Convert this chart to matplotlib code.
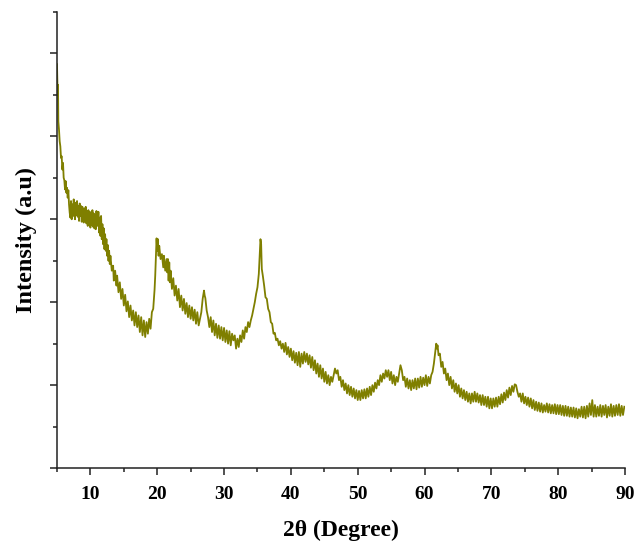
import numpy as np
import matplotlib
matplotlib.use("Agg")
import matplotlib.pyplot as plt
from matplotlib.ticker import MultipleLocator, NullFormatter

# ================= XRD 数据 (2θ, 强度 a.u.) =================
two_theta = [
    5.0, 5.05, 5.1, 5.15, 5.2, 5.3, 5.4, 5.5, 5.6, 5.7, 5.8, 5.9, 6.0, 6.1, 6.2, 6.3, 6.4, 6.5, 6.6, 6.7,
    6.8, 6.9, 7.0, 7.1, 7.2, 7.3, 7.4, 7.5, 7.6, 7.7, 7.8, 7.9, 8.0, 8.1, 8.2, 8.3, 8.4, 8.5, 8.6, 8.7,
    8.8, 8.9, 9.0, 9.1, 9.2, 9.3, 9.4, 9.5, 9.6, 9.7, 9.8, 9.9, 10.0, 10.1, 10.2, 10.3, 10.4, 10.5, 10.6, 10.7,
    10.8, 10.9, 11.0, 11.1, 11.2, 11.3, 11.4, 11.5, 11.6, 11.7, 11.8, 11.9, 12.0, 12.1, 12.2, 12.3, 12.4, 12.5, 12.6, 12.7,
    12.8, 12.9, 13.0, 13.2, 13.4, 13.5, 13.7, 13.9, 14.0, 14.2, 14.4, 14.6, 14.8, 15.0, 15.2, 15.4, 15.6, 15.8, 16.0, 16.2,
    16.4, 16.6, 16.8, 17.0, 17.2, 17.4, 17.6, 17.8, 18.0, 18.2, 18.4, 18.6, 18.8, 19.0, 19.2, 19.4, 19.6, 19.7, 19.8, 19.9,
    20.0, 20.1, 20.2, 20.3, 20.5, 20.7, 20.9, 21.0, 21.2, 21.4, 21.5, 21.6, 21.7, 21.8, 21.9, 22.0, 22.2, 22.4, 22.6, 22.8,
    23.0, 23.2, 23.4, 23.6, 23.8, 24.0, 24.2, 24.4, 24.6, 24.8, 25.0, 25.2, 25.4, 25.6, 25.8, 26.0, 26.2, 26.4, 26.6, 26.8,
    27.0, 27.1, 27.2, 27.4, 27.6, 27.8, 28.0, 28.2, 28.4, 28.6, 28.8, 29.0, 29.2, 29.4, 29.6, 29.8, 30.0, 30.2, 30.4, 30.6,
    30.8, 31.0, 31.2, 31.4, 31.6, 31.8, 32.0, 32.2, 32.4, 32.6, 32.8, 33.0, 33.2, 33.4, 33.6, 33.8, 34.0, 34.2, 34.4, 34.6,
    34.8, 35.0, 35.2, 35.35, 35.45, 35.55, 35.65, 35.8, 36.0, 36.2, 36.4, 36.6, 36.8, 37.0, 37.2, 37.4, 37.6, 37.8, 38.0, 38.2,
    38.4, 38.6, 38.8, 39.0, 39.2, 39.4, 39.6, 39.8, 40.0, 40.2, 40.4, 40.6, 40.8, 41.0, 41.2, 41.4, 41.6, 41.8, 42.0, 42.2,
    42.4, 42.6, 42.8, 43.0, 43.2, 43.4, 43.6, 43.8, 44.0, 44.2, 44.4, 44.6, 44.8, 45.0, 45.2, 45.4, 45.6, 45.8, 46.0, 46.2,
    46.4, 46.6, 46.8, 47.0, 47.2, 47.4, 47.6, 47.8, 48.0, 48.2, 48.4, 48.6, 48.8, 49.0, 49.2, 49.4, 49.6, 49.8, 50.0, 50.2,
    50.4, 50.6, 50.8, 51.0, 51.2, 51.4, 51.6, 51.8, 52.0, 52.2, 52.4, 52.6, 52.8, 53.0, 53.2, 53.4, 53.6, 53.8, 54.0, 54.2,
    54.4, 54.6, 54.8, 55.0, 55.2, 55.4, 55.6, 55.8, 56.0, 56.2, 56.4, 56.6, 56.8, 57.0, 57.2, 57.4, 57.6, 57.8, 58.0, 58.2,
    58.4, 58.6, 58.8, 59.0, 59.2, 59.4, 59.6, 59.8, 60.0, 60.2, 60.4, 60.6, 60.8, 61.0, 61.2, 61.4, 61.6, 61.75, 61.85, 61.95,
    62.1, 62.3, 62.5, 62.7, 62.9, 63.1, 63.3, 63.5, 63.7, 63.9, 64.1, 64.3, 64.5, 64.7, 64.9, 65.1, 65.3, 65.5, 65.7, 65.9,
    66.1, 66.3, 66.5, 66.7, 66.9, 67.1, 67.3, 67.5, 67.7, 67.9, 68.1, 68.3, 68.5, 68.7, 68.9, 69.1, 69.3, 69.5, 69.7, 69.9,
    70.1, 70.3, 70.5, 70.7, 70.9, 71.1, 71.3, 71.5, 71.7, 71.9, 72.1, 72.3, 72.5, 72.7, 72.9, 73.1, 73.3, 73.5, 73.7, 73.9,
    74.1, 74.3, 74.5, 74.7, 74.9, 75.1, 75.3, 75.5, 75.7, 75.9, 76.1, 76.3, 76.5, 76.7, 76.9, 77.1, 77.3, 77.5, 77.7, 77.9,
    78.1, 78.3, 78.5, 78.7, 78.9, 79.1, 79.3, 79.5, 79.7, 79.9, 80.1, 80.3, 80.5, 80.7, 80.9, 81.1, 81.3, 81.5, 81.7, 81.9,
    82.1, 82.3, 82.5, 82.7, 82.9, 83.1, 83.3, 83.5, 83.7, 83.9, 84.1, 84.3, 84.5, 84.7, 84.9, 85.1, 85.3, 85.5, 85.7, 85.9,
    86.1, 86.3, 86.5, 86.7, 86.9, 87.1, 87.3, 87.5, 87.7, 87.9, 88.1, 88.3, 88.5, 88.7, 88.9, 89.1, 89.3, 89.5, 89.7, 89.9,
]

intensity = [
    487, 468, 450, 462, 418, 408, 394, 388, 374, 376, 360, 368, 350, 347, 336, 346, 332, 338, 326, 335,
    318, 308, 302, 322, 300, 318, 304, 324, 308, 300, 320, 305, 322, 303, 316, 298, 319, 304, 316, 297,
    315, 300, 296, 313, 298, 315, 295, 310, 292, 311, 295, 309, 290, 308, 293, 311, 291, 307, 289, 305,
    288, 310, 294, 292, 309, 284, 302, 280, 304, 276, 294, 270, 289, 264, 282, 262, 276, 256, 269, 250,
    262, 246, 256, 238, 244, 226, 238, 220, 232, 212, 224, 204, 216, 196, 209, 189, 201, 182, 196, 178,
    190, 172, 188, 170, 184, 164, 182, 160, 178, 158, 176, 162, 180, 168, 188, 192, 215, 232, 255, 277,
    262, 276, 256, 268, 252, 258, 242, 256, 238, 252, 236, 252, 226, 248, 224, 238, 216, 229, 208, 220,
    202, 216, 194, 208, 190, 204, 186, 199, 182, 196, 180, 194, 178, 191, 174, 188, 172, 180, 188, 204,
    214, 208, 205, 190, 182, 170, 182, 164, 178, 160, 174, 157, 172, 156, 170, 154, 169, 152, 166, 150,
    165, 148, 162, 154, 160, 144, 156, 146, 160, 152, 166, 156, 170, 164, 176, 170, 178, 184, 192, 200,
    210, 218, 234, 258, 276, 270, 240, 232, 220, 206, 204, 192, 188, 176, 174, 162, 163, 154, 156, 148,
    153, 144, 150, 140, 151, 137, 146, 134, 144, 130, 141, 127, 139, 124, 140, 122, 138, 126, 140, 128,
    138, 125, 136, 121, 134, 118, 130, 114, 126, 110, 124, 108, 120, 104, 116, 102, 112, 100, 110, 104,
    112, 120, 114, 118, 106, 110, 98, 106, 94, 102, 90, 100, 88, 98, 86, 96, 84, 94, 82, 93,
    82, 94, 84, 95, 84, 96, 86, 98, 88, 100, 92, 103, 96, 106, 100, 112, 104, 114, 108, 118,
    110, 118, 106, 116, 102, 112, 100, 110, 104, 114, 124, 118, 106, 110, 98, 108, 96, 106, 94, 106,
    96, 108, 95, 108, 97, 110, 98, 109, 100, 112, 99, 110, 102, 112, 116, 126, 140, 150, 144, 148,
    136, 138, 122, 128, 114, 120, 106, 114, 100, 110, 96, 106, 92, 102, 90, 100, 86, 96, 84, 94,
    82, 92, 80, 90, 78, 90, 80, 92, 80, 90, 79, 88, 76, 88, 76, 86, 74, 86, 72, 84,
    72, 84, 74, 85, 74, 86, 77, 89, 79, 91, 82, 94, 85, 97, 88, 99, 92, 101, 100, 92,
    86, 90, 80, 90, 78, 86, 76, 85, 74, 84, 72, 82, 70, 80, 69, 79, 68, 78, 67, 76,
    68, 78, 67, 77, 66, 76, 66, 77, 65, 76, 65, 76, 64, 75, 63, 75, 63, 74, 62, 73,
    62, 73, 61, 72, 60, 71, 62, 74, 61, 74, 60, 75, 62, 78, 64, 82, 62, 76, 62, 74,
    63, 76, 62, 75, 64, 76, 61, 74, 63, 77, 62, 75, 63, 76, 64, 77, 63, 75, 64, 74,
]

x_ticks = [10, 20, 30, 40, 50, 60, 70, 80, 90]

# ================= 绘图 =================
plt.rcParams['font.family'] = ['Liberation Serif', 'DejaVu Serif']
plt.rcParams['font.weight'] = 'bold'

fig = plt.figure(figsize=(6.44, 5.43), dpi=100)
ax = fig.add_axes([0.0885, 0.138, 0.882, 0.840])

ax.plot(two_theta, intensity, color='#7f7f00', lw=1.3)

ax.set_xlim(5, 90)
ax.set_ylim(0, 550)

ax.set_xticks(x_ticks)
ax.xaxis.set_minor_locator(MultipleLocator(5))
ax.yaxis.set_major_locator(MultipleLocator(100))
ax.yaxis.set_minor_locator(MultipleLocator(50))
ax.yaxis.set_major_formatter(NullFormatter())

for side in ['top', 'right']:
    ax.spines[side].set_visible(False)
for side in ['left', 'bottom']:
    ax.spines[side].set_linewidth(1.1)
    ax.spines[side].set_color('#222222')

ax.tick_params(which='major', direction='out', length=5, width=1.1, color='#222222')
ax.tick_params(which='minor', direction='out', length=3, width=1.1, color='#222222')
ax.tick_params(axis='x', which='major', labelsize=14, pad=8)
for lbl in ax.get_xticklabels():
    lbl.set_fontweight('bold')

ax.set_xlabel('2θ (Degree)', fontsize=17, fontweight='bold', labelpad=12)
ax.set_ylabel('Intensity (a.u)', fontsize=17.5, fontweight='bold', labelpad=6)

fig.savefig('out.png', dpi=100)
plt.close(fig)
